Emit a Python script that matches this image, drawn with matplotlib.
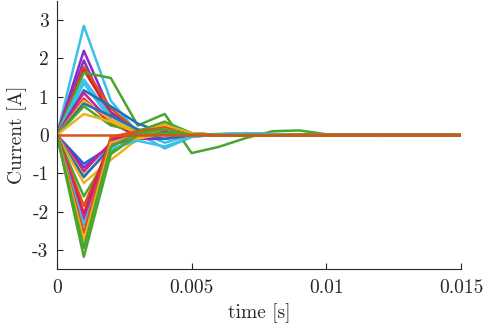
import numpy as np
import matplotlib
matplotlib.use("Agg")
import matplotlib.pyplot as plt

plt.rcParams['font.family'] = ['cmr10', 'DejaVu Serif']
plt.rcParams['axes.unicode_minus'] = False
plt.rcParams['mathtext.fontset'] = 'cm'

# time samples [s]
time = np.arange(16) * 0.001

blue = '#1f6fc0'
orange = '#d95319'
yellow = '#edb120'
purple = '#8a2bc8'
green = '#4aa52e'
cyan = '#3cbfe8'
red = '#e0202e'
magenta = '#d01c96'

# currents that swing positive at the first sample
pos_colors = [cyan, purple, purple, orange, red, green, cyan, cyan, blue,
              magenta, red, yellow, blue, green, yellow]
pos_currents = [
    [0, 2.85, 0.90, 0.05, -0.35, -0.05, 0.02, 0.05, 0.03, 0.01, 0, 0, 0, 0, 0, 0],
    [0, 2.20, 0.60, 0.10, 0.15, 0.02, 0, 0, 0, 0, 0, 0, 0, 0, 0, 0],
    [0, 1.95, 0.40, 0.00, 0.10, 0.00, 0, 0, 0, 0, 0, 0, 0, 0, 0, 0],
    [0, 1.78, 0.70, 0.10, 0.30, 0.05, 0, 0, 0, 0, 0, 0, 0, 0, 0, 0],
    [0, 1.70, 0.55, 0.05, 0.25, 0.00, 0, 0, 0, 0, 0, 0, 0, 0, 0, 0],
    [0, 1.63, 1.49, 0.25, 0.55, -0.47, -0.31, -0.08, 0.10, 0.12, 0.02, 0, 0, 0, 0, 0],
    [0, 1.45, 0.50, 0.10, -0.20, 0.00, 0.03, 0.04, 0.02, 0, 0, 0, 0, 0, 0, 0],
    [0, 1.35, 0.40, 0.10, 0.20, 0.05, 0, 0, 0, 0, 0, 0, 0, 0, 0, 0],
    [0, 1.17, 0.75, 0.30, 0.05, 0.00, 0, 0, 0, 0, 0, 0, 0, 0, 0, 0],
    [0, 1.10, 0.35, -0.05, 0.20, 0.02, 0, 0, 0, 0, 0, 0, 0, 0, 0, 0],
    [0, 0.95, 0.30, 0.00, 0.15, 0.00, 0, 0, 0, 0, 0, 0, 0, 0, 0, 0],
    [0, 0.90, 0.40, 0.10, 0.30, 0.05, 0, 0, 0, 0, 0, 0, 0, 0, 0, 0],
    [0, 0.82, 0.50, 0.15, 0.00, 0.00, 0, 0, 0, 0, 0, 0, 0, 0, 0, 0],
    [0, 0.75, 0.25, 0.10, 0.35, 0.05, 0, 0, 0, 0, 0, 0, 0, 0, 0, 0],
    [0, 0.55, 0.35, 0.05, 0.25, 0.05, 0, 0, 0, 0, 0, 0, 0, 0, 0, 0],
]

# currents that swing negative at the first sample
neg_colors = [blue, purple, magenta, yellow, blue, yellow, green, orange, red,
              magenta, cyan, orange, yellow, green, green, orange]
neg_currents = [
    [0, -0.75, -0.30, 0.10, 0.10, 0.00, 0, 0, 0, 0, 0, 0, 0, 0, 0, 0],
    [0, -0.85, -0.25, -0.10, -0.10, 0.00, 0, 0, 0, 0, 0, 0, 0, 0, 0, 0],
    [0, -0.95, -0.20, 0.00, 0.05, 0.00, 0, 0, 0, 0, 0, 0, 0, 0, 0, 0],
    [0, -1.05, -0.40, -0.05, 0.15, 0.00, 0, 0, 0, 0, 0, 0, 0, 0, 0, 0],
    [0, -1.10, -0.30, 0.05, -0.10, 0.00, 0, 0, 0, 0, 0, 0, 0, 0, 0, 0],
    [0, -1.25, -0.65, -0.10, 0.05, 0.00, 0, 0, 0, 0, 0, 0, 0, 0, 0, 0],
    [0, -1.60, -0.45, 0.00, 0.10, 0.00, 0, 0, 0, 0, 0, 0, 0, 0, 0, 0],
    [0, -1.85, -0.20, 0.05, 0.00, 0.00, 0, 0, 0, 0, 0, 0, 0, 0, 0, 0],
    [0, -2.05, -0.10, 0.00, 0.05, 0.00, 0, 0, 0, 0, 0, 0, -0.02, -0.01, 0, 0],
    [0, -2.20, -0.15, 0.05, 0.10, 0.00, 0, 0, 0, 0, 0, 0, 0, 0, 0, 0],
    [0, -2.35, -0.35, -0.15, -0.30, -0.05, 0.02, 0.05, 0.03, 0, 0, 0, 0, 0, 0, 0],
    [0, -2.55, -0.05, 0.10, 0.20, 0.00, 0, 0, 0, 0, 0, 0, 0, 0, 0, 0],
    [0, -2.75, -0.20, 0.00, 0.15, 0.00, 0, 0, 0, 0, 0, 0, 0, 0, 0, 0],
    [0, -2.95, -0.30, 0.05, 0.15, 0.00, 0, 0, 0, 0, 0, 0, 0, 0, 0, 0],
    [0, -3.18, -0.50, 0.00, 0.05, 0.00, 0, 0, 0, 0, 0, 0, 0, 0, 0, 0],
    [0, 0, 0, 0, 0, 0, 0, 0, 0, 0, 0, 0, 0, 0, 0, 0],
]

x_ticks = [0, 0.005, 0.01, 0.015]
x_labels = ['0', '0.005', '0.01', '0.015']
y_ticks = [-3, -2, -1, 0, 1, 2, 3]
y_labels = ['-3', '-2', '-1', '0', '1', '2', '3']

fig = plt.figure(figsize=(4.86, 3.29), dpi=100)
ax = fig.add_axes([0.117, 0.182, 0.832, 0.815])

for c, y in zip(pos_colors, pos_currents):
    ax.plot(time, y, color=c, lw=1.8)
for c, y in zip(neg_colors, neg_currents):
    ax.plot(time, y, color=c, lw=1.8)

ax.set_xlim(0, 0.015)
ax.set_ylim(-3.5, 3.5)
ax.set_xticks(x_ticks)
ax.set_xticklabels(x_labels)
ax.set_yticks(y_ticks)
ax.set_yticklabels(y_labels)

for s in ['top', 'right']:
    ax.spines[s].set_visible(False)
for s in ['left', 'bottom']:
    ax.spines[s].set_color('#262626')
    ax.spines[s].set_linewidth(0.8)
ax.tick_params(direction='in', length=4, width=0.8, colors='#262626',
               labelsize=14, pad=6)
ax.tick_params(axis='x', pad=7)

ax.set_xlabel('time [s]', fontsize=14, color='#262626', labelpad=5)
ax.set_ylabel('Current [A]', fontsize=14, color='#262626', labelpad=4)

fig.savefig('out.png', dpi=100)
